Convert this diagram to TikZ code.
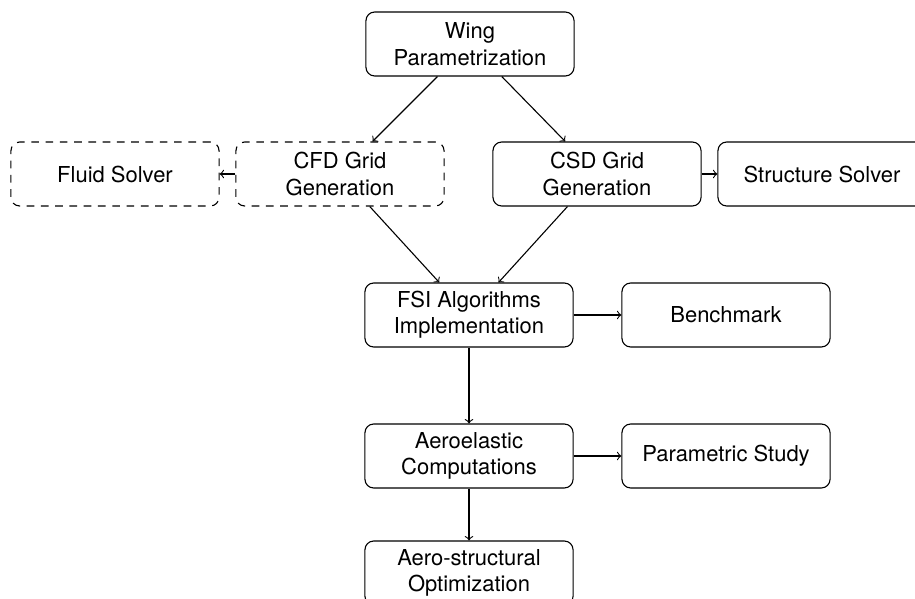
\documentclass[tikz,border=0pt]{standalone}
\usepackage{fontspec}
\setmainfont{TeX Gyre Heros}
\usepackage{tikz}
\tikzset{
    flow-box/.style = {draw=black, fill=white, line width=0.5pt, rectangle, rounded corners, align=center, minimum width=3.33cm, minimum height=1.024cm, inner sep=2pt},
    flow-box-dashed/.style = {flow-box, dash pattern=on 3.5pt off 3pt},
    flow-arrow/.style = {->, line width=0.5pt},
}

\begin{document}
\begin{tikzpicture}
\useasboundingbox (0,0) rectangle (14.64,-9.584);
\node [flow-box] (wing) at (7.52,-0.704) {Wing\\Parametrization};
\node [flow-box-dashed] (fluid) at (1.84,-2.784) {Fluid Solver};
\node [flow-box-dashed] (cfd) at (5.44,-2.784) {CFD Grid\\Generation};
\node [flow-box] (csd) at (9.552,-2.784) {CSD Grid\\Generation};
\node [flow-box] (structure) at (13.152,-2.784) {Structure Solver};
\node [flow-box] (fsi) at (7.504,-5.04) {FSI Algorithms\\Implementation};
\node [flow-box] (benchmark) at (11.616,-5.04) {Benchmark};
\node [flow-box] (aeroelastic) at (7.504,-7.296) {Aeroelastic\\Computations};
\node [flow-box] (parametric) at (11.616,-7.296) {Parametric Study};
\node [flow-box] (optimization) at (7.504,-9.168) {Aero-structural\\Optimization};

\draw [flow-arrow] (wing) -- (cfd);
\draw [flow-arrow] (wing) -- (csd);
\draw [flow-arrow] (cfd) -- (fluid);
\draw [flow-arrow] (csd) -- (structure);
\draw [flow-arrow] (cfd) -- (fsi);
\draw [flow-arrow] (csd) -- (fsi);
\draw [flow-arrow] (fsi) -- (benchmark);
\draw [flow-arrow] (fsi) -- (aeroelastic);
\draw [flow-arrow] (aeroelastic) -- (parametric);
\draw [flow-arrow] (aeroelastic) -- (optimization);
\end{tikzpicture}
\end{document}
